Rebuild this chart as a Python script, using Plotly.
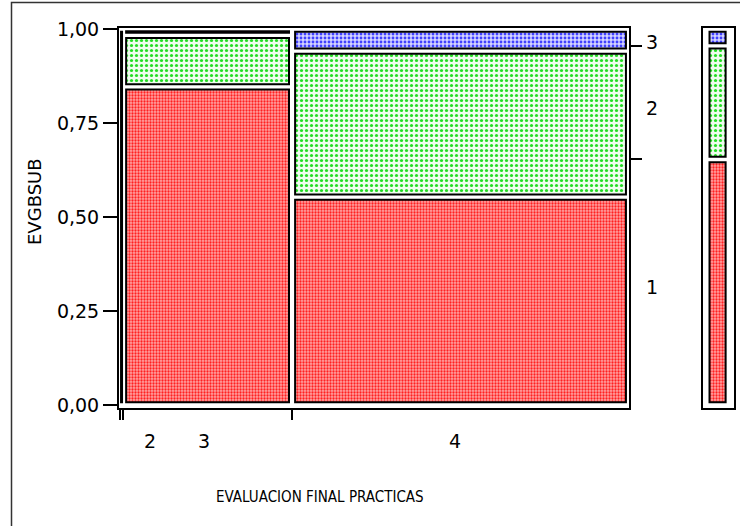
import numpy as np
import plotly.graph_objects as go

# EVALUACION FINAL PRACTICAS categories and their share of observations
categories = ["2", "3", "4"]
col_share = [0.006, 0.332, 0.662]

# EVGBSUB levels and their share within each category
levels = ["1", "2", "3"]
level_share = {
    "1": [1.000, 0.846, 0.553],
    "2": [0.000, 0.137, 0.388],
    "3": [0.000, 0.017, 0.059],
}

y_ticks = [0.0, 0.25, 0.50, 0.75, 1.0]

# styling
FONT = "DejaVu Sans, Arial, sans-serif"
NARROW = "Liberation Sans Narrow, Arial Narrow, DejaVu Sans Condensed, Liberation Sans, sans-serif"
fills = {
    "1": dict(fg="#ff2020", bg="#ffa4a4", size=3, solidity=0.45),
    "2": dict(fg="#22dd22", bg="#eefcee", size=5, solidity=0.32),
    "3": dict(fg="#4040ff", bg="#d4d4ff", size=4, solidity=0.40),
}
W, H = 740, 526
GAP_Y = 0.007   # vertical inset of each tile
GAP_X = 0.006   # horizontal inset of each tile

col_share = np.array(col_share)
col_edges = np.concatenate([[0.0], np.cumsum(col_share)])
col_centers = (col_edges[:-1] + col_edges[1:]) / 2

# overall EVGBSUB distribution (weighted over categories)
marginal = {lv: float(np.dot(col_share, level_share[lv])) for lv in levels}
marg_edges = np.concatenate([[0.0], np.cumsum([marginal[lv] for lv in levels])])


def pattern_marker(lv):
    f = fills[lv]
    return dict(color=f["bg"], line=dict(color="black", width=2),
                pattern=dict(shape=".", fgcolor=f["fg"], bgcolor=f["bg"],
                             size=f["size"], solidity=f["solidity"]))


fig = go.Figure()

cum = np.zeros(len(categories))
for lv in levels:
    share = np.array(level_share[lv])
    base, height, xs, widths = [], [], [], []
    for i, s in enumerate(share):
        if s <= 0:
            continue
        base.append(cum[i] + GAP_Y)
        height.append(max(s - 2 * GAP_Y, 0.004))
        xs.append(col_centers[i])
        widths.append(max(col_share[i] - 2 * GAP_X, 0.002))
    cum += share
    fig.add_trace(go.Bar(
        x=xs, y=height, base=base, width=widths, name=lv,
        marker=pattern_marker(lv),
        xaxis="x", yaxis="y", showlegend=False, hoverinfo="skip",
    ))

# marginal bar on the right
for k, lv in enumerate(levels):
    lo, hi = marg_edges[k], marg_edges[k + 1]
    fig.add_trace(go.Bar(
        x=[0.47], y=[hi - lo - 2 * GAP_Y], base=[lo + GAP_Y], width=[0.52],
        marker=pattern_marker(lv),
        xaxis="x2", yaxis="y2", showlegend=False, hoverinfo="skip",
    ))

# invisible trace so the right-hand tick axis is drawn
fig.add_trace(go.Scatter(x=[0.5], y=[0.5], mode="markers", marker=dict(opacity=0),
                         xaxis="x", yaxis="y3", showlegend=False, hoverinfo="skip"))

px_x = lambda p: p / W
px_y = lambda p: (H - p) / H

y_dom = [px_y(408), px_y(28)]
y_rng = [-0.008, 1.0027]

fig.update_layout(
    template="none",
    width=W, height=H,
    margin=dict(l=0, r=0, t=0, b=0, autoexpand=False),
    paper_bgcolor="white", plot_bgcolor="white",
    barmode="overlay", separators=",.",
    font=dict(family=FONT, size=19, color="black"),
    xaxis=dict(domain=[px_x(119), px_x(629)], range=[-0.002, 1.0], automargin=False,
               showgrid=False, zeroline=False, showline=True, mirror=True,
               linecolor="black", linewidth=2,
               tickvals=list(col_edges[:-1]), ticks="outside", ticklen=10,
               tickwidth=2, tickcolor="black", showticklabels=False),
    yaxis=dict(domain=y_dom, range=y_rng, automargin=False, showgrid=False,
               zeroline=False, showline=True, mirror=True, linecolor="black",
               linewidth=2, tickvals=y_ticks, tickformat=".2f", ticks="outside",
               ticklen=14, tickwidth=2, tickcolor="black", tickfont=dict(size=19)),
    yaxis3=dict(domain=y_dom, range=y_rng, overlaying="y", anchor="x", side="right",
                automargin=False, showgrid=False, zeroline=False, showline=False,
                tickvals=list(marg_edges[1:-1]), ticks="outside", ticklen=12,
                tickwidth=2, tickcolor="black", showticklabels=False),
    xaxis2=dict(domain=[px_x(703), px_x(734)], range=[0, 1], anchor="y2",
                automargin=False, showgrid=False, zeroline=False, showline=True,
                mirror=True, linecolor="black", linewidth=2,
                showticklabels=False, ticks=""),
    yaxis2=dict(domain=y_dom, range=y_rng, anchor="x2", automargin=False,
                showgrid=False, zeroline=False, showline=True, mirror=True,
                linecolor="black", linewidth=2, showticklabels=False, ticks=""),
)

# category labels under the columns
x_label_pos = [0.059, 0.165, 0.658]
for lab, xp in zip(categories, x_label_pos):
    fig.add_annotation(x=xp, y=px_y(441), xref="x", yref="paper", text=lab,
                       xanchor="center", yanchor="middle",
                       showarrow=False, font=dict(size=19))

# level labels on the right, centred on the marginal segments
for k, lv in enumerate(levels):
    mid = (marg_edges[k] + marg_edges[k + 1]) / 2
    fig.add_annotation(x=px_x(652), y=mid, xref="paper", yref="y", yshift=-5,
                       xanchor="center", yanchor="middle",
                       text=lv, showarrow=False, font=dict(size=19))

fig.add_annotation(x=px_x(35), y=px_y(202), xref="paper", yref="paper",
                   xanchor="center", yanchor="middle",
                   text="EVGBSUB", textangle=-90, showarrow=False, font=dict(size=18))
fig.add_annotation(x=px_x(320), y=px_y(497), xref="paper", yref="paper",
                   xanchor="center", yanchor="middle",
                   text="EVALUACION FINAL PRACTICAS", showarrow=False,
                   font=dict(size=15, family=NARROW))

# outer frame of the report panel
fig.add_shape(type="rect", xref="paper", yref="paper",
              x0=px_x(11.5), x1=1.2, y0=-0.2, y1=px_y(2.5),
              line=dict(color="#333333", width=1.5), layer="below")

fig.write_html("out.html")
